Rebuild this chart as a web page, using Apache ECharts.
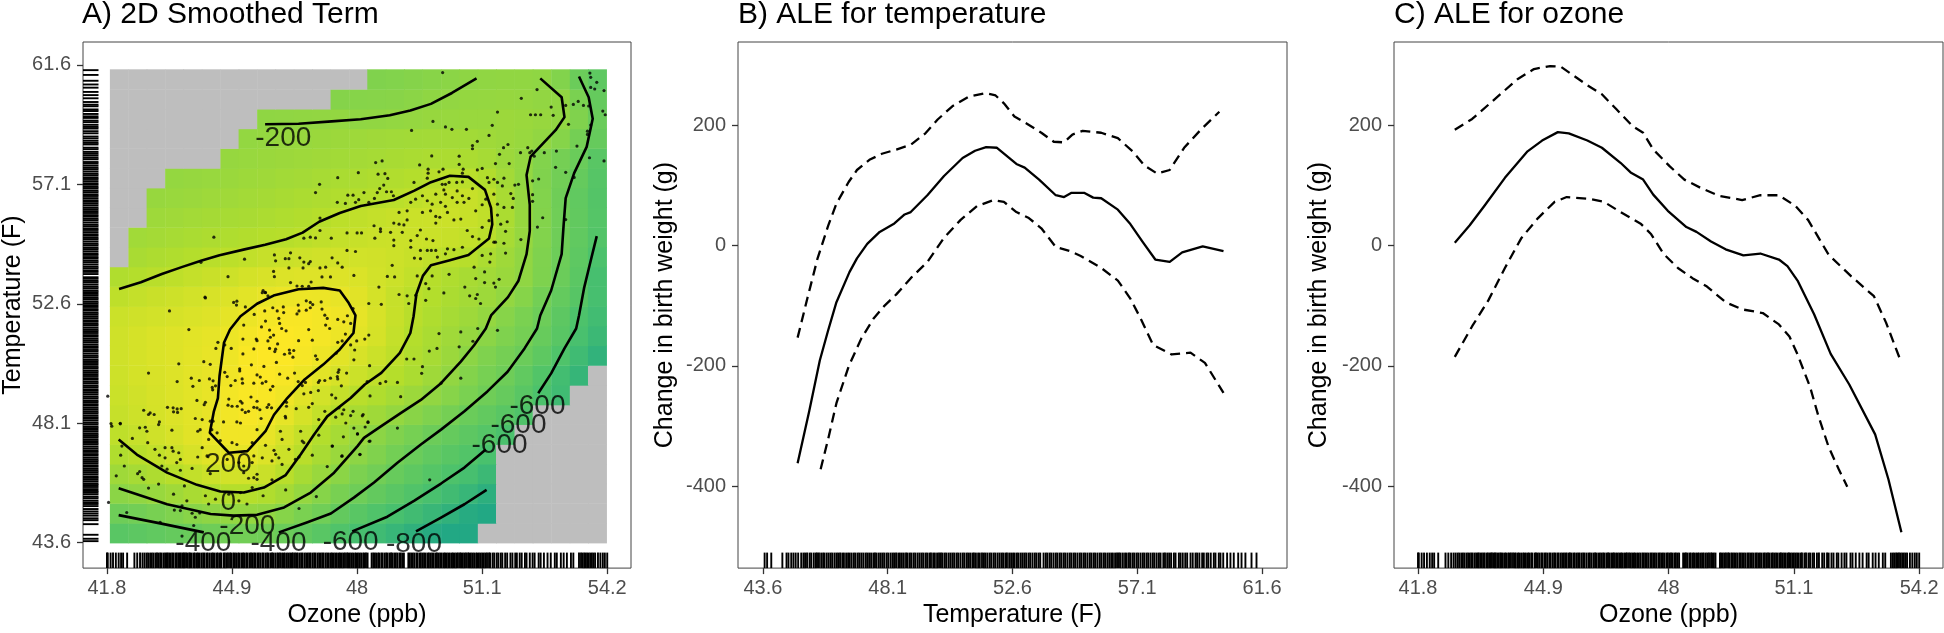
<!DOCTYPE html>
<html><head><meta charset="utf-8"><style>html,body{margin:0;padding:0;background:#fff}#c{width:1944px;height:633px}</style>
<script src="https://cdn.jsdelivr.net/npm/echarts@6/dist/echarts.min.js"></script></head><body><div id="c"></div>
<script>
const ozoneTicks=[41.8,44.9,48,51.1,54.2];
const tempTicks=[43.6,48.1,52.6,57.1,61.6];
const aleTicks=[-400,-200,0,200];
const titles=['A) 2D Smoothed Term','B) ALE for temperature','C) ALE for ozone'];
const heatX=[42.10,42.56,43.01,43.47,43.92,44.38,44.84,45.29,45.75,46.20,46.66,47.11,47.57,48.03,48.48,48.94,49.39,49.85,50.31,50.76,51.22,51.67,52.13,52.58,53.04,53.50,53.95];
const heatY=[43.97,44.71,45.46,46.20,46.94,47.68,48.43,49.17,49.91,50.66,51.40,52.14,52.88,53.63,54.37,55.11,55.86,56.60,57.34,58.08,58.83,59.57,60.31,61.06];
const _=null;
const heatValues=[
[-510,-490,-465,-440,-415,-385,-365,-360,-370,-410,-460,-510,-570,-630,-680,-740,-800,-860,-900,-940],
[-385,-360,-325,-285,-240,-210,-185,-180,-195,-250,-310,-370,-450,-510,-570,-620,-670,-730,-790,-860,-930],
[-225,-195,-160,-120,-75,-40,-15,-15,-40,-95,-175,-250,-320,-385,-450,-505,-560,-615,-670,-740,-820],
[-125,-90,-50,-5,40,80,105,100,65,0,-85,-155,-225,-300,-360,-425,-480,-535,-585,-630,-710],
[-40,0,40,80,125,165,190,185,145,80,0,-75,-150,-215,-280,-355,-410,-465,-510,-555,-610],
[20,55,90,125,165,200,230,230,190,125,50,-25,-90,-160,-220,-280,-335,-395,-440,-490,-540,-600],
[55,85,115,145,170,195,235,255,235,185,115,45,-20,-80,-125,-180,-235,-285,-340,-410,-455,-510,-570],
[70,95,120,145,170,195,240,265,260,225,165,105,45,0,-40,-90,-140,-190,-245,-310,-375,-435,-515,-590,-680],
[85,110,130,150,175,195,230,270,275,255,215,170,120,75,30,-15,-65,-125,-190,-265,-330,-385,-465,-555,-655,-750],
[90,115,135,155,175,195,220,265,280,275,250,215,170,125,75,25,-35,-85,-145,-220,-285,-340,-400,-480,-575,-680,-780],
[90,115,135,155,170,185,210,245,270,275,265,245,215,170,115,45,-20,-70,-120,-170,-225,-285,-340,-425,-515,-615,-710],
[75,90,105,120,135,155,180,210,245,260,260,245,225,185,125,60,0,-45,-90,-130,-180,-245,-310,-390,-490,-585,-665],
[20,45,65,85,105,125,145,170,195,210,215,210,195,165,110,55,10,-25,-65,-100,-135,-185,-250,-350,-445,-525,-625],
[-40,-20,0,20,45,65,85,110,130,145,155,155,150,135,105,75,40,-10,-45,-80,-110,-150,-200,-290,-400,-500,-625],
[_,-75,-55,-40,-20,0,15,35,55,70,85,95,100,100,95,80,60,30,10,-5,-60,-125,-195,-285,-390,-485,-590],
[_,-115,-100,-85,-70,-55,-45,-30,-15,-5,10,30,45,60,70,75,75,70,60,40,5,-85,-170,-270,-380,-465,-550],
[_,_,-130,-120,-105,-95,-85,-75,-60,-45,-30,-10,15,30,45,60,70,75,75,60,30,-65,-165,-265,-370,-460,-540],
[_,_,-165,-155,-145,-130,-120,-105,-95,-80,-65,-50,-35,-20,-10,5,25,45,60,60,25,-75,-170,-270,-375,-465,-545],
[_,_,_,-180,-170,-160,-150,-135,-125,-110,-100,-85,-70,-60,-45,-35,-20,0,10,5,-30,-105,-185,-280,-360,-440,-530],
[_,_,_,_,_,_,-170,-160,-150,-140,-130,-120,-110,-100,-90,-80,-70,-60,-60,-65,-90,-140,-180,-270,-340,-410,-510],
[_,_,_,_,_,_,_,-185,-175,-165,-160,-150,-140,-130,-120,-115,-110,-105,-105,-110,-125,-140,-160,-190,-250,-345,-430],
[_,_,_,_,_,_,_,_,-205,-200,-195,-190,-185,-200,-195,-185,-175,-165,-160,-155,-155,-140,-150,-165,-190,-280,-410],
[_,_,_,_,_,_,_,_,_,_,_,_,-255,-250,-245,-240,-225,-205,-190,-180,-175,-170,-175,-190,-195,-310,-440],
[_,_,_,_,_,_,_,_,_,_,_,_,_,_,-280,-270,-255,-240,-225,-210,-200,-195,-195,-205,-270,-400,-480]
];
const contour200=[[46.27,49.05],[45.94,48.42],[45.73,47.80],[45.28,47.05],[44.82,46.99],[44.35,47.74],[44.45,48.55],[44.55,49.05],[44.59,49.88],[44.70,51.13],[44.85,51.63],[45.11,52.13],[45.52,52.60],[45.93,52.91],[46.55,53.15],[47.16,53.20],[47.57,53.10],[47.78,52.66],[47.96,52.16],[47.91,51.50],[47.57,50.88],[47.16,50.31],[46.70,49.75],[46.27,49.05]];
const contour0=[[42.09,47.49],[42.54,46.92],[43.29,46.24],[44.03,45.78],[44.61,45.53],[45.19,45.49],[45.69,45.68],[46.23,46.15],[46.60,46.92],[46.93,47.67],[47.26,48.36],[47.84,49.05],[48.19,49.56],[48.60,50.00],[49.06,50.75],[49.32,51.50],[49.40,52.13],[49.47,52.97],[49.63,53.65],[49.83,54.05],[50.30,54.24],[50.76,54.44],[51.27,55.06],[51.35,55.59],[51.32,56.21],[51.17,56.89],[50.76,57.38],[50.30,57.42],[49.83,57.18],[49.42,56.86],[48.91,56.51],[48.09,56.28],[47.57,56.02],[47.06,55.69],[46.65,55.28],[46.24,55.03],[45.72,54.82],[45.21,54.65],[44.59,54.43],[44.13,54.22],[43.67,53.99],[43.16,53.72],[42.64,53.41],[42.10,53.16]];
const contourM200a=[[45.72,59.36],[46.55,59.38],[47.37,59.47],[48.09,59.55],[48.81,59.70],[49.32,59.88],[49.83,60.13],[50.35,60.54],[50.96,61.09]];
const contourM200b=[[42.09,45.65],[43.29,45.05],[44.37,44.68],[44.94,44.62],[45.52,44.65],[46.19,44.93],[46.85,45.49],[47.43,46.24],[48.01,47.24],[48.17,47.55],[48.59,47.98],[49.08,48.48],[49.58,48.98],[50.08,49.61],[50.57,50.42],[50.90,51.04],[51.19,51.67],[51.32,52.16],[51.74,52.85],[52.00,53.47],[52.20,54.47],[52.28,55.34],[52.28,56.33],[52.20,57.45],[52.30,58.14],[52.92,59.14],[53.14,59.63],[53.07,60.38],[52.54,61.09]];
const contourM400a=[[42.09,44.64],[43.12,44.33],[44.20,43.99]];
const contourM400b=[[46.06,43.99],[46.77,44.37],[47.35,44.70],[47.92,45.30],[48.42,45.87],[49.00,46.61],[49.58,47.30],[50.08,47.86],[50.66,48.55],[51.23,49.30],[51.73,50.04],[52.15,50.92],[52.46,51.67],[52.54,52.16],[52.81,53.10],[53.07,54.47],[53.12,55.59],[53.17,56.58],[53.38,57.52],[53.69,58.51],[53.84,59.57],[53.74,60.38],[53.50,61.16]];
const contourM600a=[[52.49,49.23],[52.81,49.98],[53.14,50.92],[53.43,51.67],[53.50,52.16],[53.63,53.22],[53.79,54.22],[53.94,55.15]];
const contourM600b=[[47.88,44.03],[48.75,44.58],[49.41,45.18],[50.08,45.83],[50.66,46.43],[51.19,47.11]];
const contourM800=[[49.46,44.03],[50.08,44.55],[50.66,45.05],[51.21,45.59]];
const labelText=['-200','200','0','-200','-400','-400','-600','-800','-600','-600','-600'];
const labelX=[46.17,44.81,44.81,45.28,44.19,46.05,47.84,49.41,52.47,52.00,51.53];
const labelY=[58.85,46.55,45.12,44.22,43.59,43.59,43.60,43.56,48.74,48.01,47.26];
const dotsUpper=[[50.12,61.31],[53.77,61.29],[53.79,61.13],[53.94,60.94],[53.79,60.75],[53.89,60.69],[54.12,60.63],[52.46,60.67],[52.07,60.34],[53.48,60.22],[53.36,60.11],[53.17,60.07],[52.81,60.01],[53.61,60.07],[53.74,60.05],[54.09,59.86],[54.15,59.72],[52.30,59.72],[52.42,59.72],[52.55,59.72],[51.48,59.82],[52.86,59.70],[53.24,59.36],[53.79,59.33],[49.88,59.47],[50.19,59.26],[50.35,59.17],[50.71,59.17],[51.35,59.32],[49.35,59.13],[51.27,58.94],[50.98,58.72],[50.86,58.56],[50.86,58.44],[51.63,58.48],[51.74,58.6],[51.53,58.23],[52.33,58.35],[52.39,58.16],[52.28,58.29],[52.23,58.48],[52.64,58.29],[52.94,58.35],[53.45,58.54],[53.71,59.1],[53.71,58.98],[53.76,58.1],[54.12,57.98],[53.38,57.36],[53.17,57.55],[52.92,57.74],[52.50,57.3],[52.35,57.23],[50.53,58.16],[49.85,58.17],[52.05,58.29],[52.35,56.46],[52.35,56.71],[52.6,55.84],[52.47,55.49],[53.17,55.77],[44.45,55.11],[45.21,54.28],[44.13,54.16],[44.8,53.62],[45.93,53.82],[45.95,53.62],[45.95,54.44],[45.98,54.22],[45.67,53.1],[45.72,53.03],[44.23,52.85],[41.82,49.12],[41.9,48.09],[42.13,48.1]];
const dotsMiddle=[[50.11,57.1],[50.19,57.1],[50.28,57.17],[50.47,57.17],[50.61,57.19],[50.86,56.94],[50.15,56.89],[50.48,56.85],[49.95,56.73],[50.19,56.73],[50.61,56.67],[50.36,56.6],[50.77,56.57],[49.62,56.67],[49.45,56.54],[49.33,56.42],[49.74,56.48],[49.86,56.35],[50.07,56.42],[50.19,56.27],[50.48,56.42],[50.65,56.42],[51.1,56.33],[51.19,56.54],[50.94,56.1],[50.24,56.04],[49.62,56.04],[49.24,56.1],[49.04,56.04],[49.82,56.1],[49.95,55.89],[50.05,55.86],[50.4,55.76],[50.57,55.79],[51.1,55.48],[51.27,55.73],[49.95,55.64],[49.24,55.76],[49.57,55.38],[49.49,55.17],[48.91,55.64],[49.04,55.6],[49.16,55.57],[48.58,55.42],[48.42,55.54],[48.58,55.32],[48.83,55.29],[49.12,55.29],[48.91,55.0],[49.33,54.98],[49.72,55.04],[49.88,54.98],[50.73,55.36],[50.86,55.13],[51.02,55.04],[51.39,54.92],[50.61,54.73],[50.24,54.67],[50.4,54.64],[49.95,54.61],[49.84,54.61],[49.74,54.61],[49.57,54.61],[49.33,54.73],[48.91,54.79],[47.75,54.61],[47.96,54.57],[49.42,54.32],[49.57,54.3],[49.99,54.36],[50.19,54.48],[51.1,54.42],[51.31,54.48],[51.29,54.17],[50.9,53.98],[47.38,54.33],[47.52,54.14],[47.63,53.98],[48.87,54.05],[48.75,53.63],[48.93,53.61],[49.49,53.65],[49.86,53.65],[50.28,53.71],[50.94,53.55],[51.16,53.8],[51.52,53.52],[51.39,53.38],[51.16,53.4],[51.43,53.23],[50.67,53.23],[49.7,53.36],[49.78,53.17],[50.15,53.01],[50.79,52.9],[50.94,52.8],[50.98,52.95],[51.06,52.61],[49.45,52.92],[49.7,52.73],[49.04,52.95],[49.24,52.9],[49.28,52.61],[48.54,53.23],[48.29,52.61],[48.6,52.58],[47.92,53.67],[47.34,53.61],[47.13,53.61],[46.86,53.42],[46.64,53.26],[46.8,53.26],[46.35,53.4],[46.51,53.27],[46.31,53.95],[46.66,53.95],[47.08,53.95],[47.22,53.98],[46.22,54.3],[46.31,54.3],[46.58,54.33],[46.68,54.17],[46.8,54.11],[46.84,54.19],[46.35,54.52],[47.08,55.36],[46.68,55.07],[46.84,55.11],[46.97,55.08],[47.36,55.07],[47.75,55.27],[48.0,55.27],[48.11,55.27],[48.44,55.07],[47.08,55.83],[47.51,56.42],[47.71,56.38],[47.96,56.42],[48.04,56.52],[48.29,56.42],[48.43,56.57],[48.17,56.79],[47.77,56.69],[47.9,56.69],[46.97,56.79],[47.07,57.1],[47.52,57.35],[48.03,57.54],[48.52,57.48],[48.69,57.5],[48.76,57.32],[48.66,57.07],[48.56,56.94],[48.5,56.79],[48.73,56.82],[48.85,56.82],[48.9,56.67],[48.46,57.92],[48.62,57.98],[49.41,57.17],[49.55,57.83],[49.76,57.67],[49.76,57.52],[49.74,57.33],[50.03,57.57],[50.13,57.67],[50.53,57.85],[50.63,57.67],[50.61,57.52],[50.98,57.64],[51.1,57.7],[51.43,57.88],[51.77,57.88],[51.23,57.35],[51.39,57.29],[51.27,57.17],[51.64,57.33],[51.48,57.17],[51.6,57.04],[51.91,57.07],[52.0,57.1],[51.81,56.75],[51.87,56.57],[51.48,56.35],[51.64,56.23],[51.85,56.23],[51.39,56.73],[51.56,55.6],[51.72,55.69],[51.48,55.94],[51.68,55.33],[52.06,55.02],[51.43,54.92],[51.64,54.88],[51.68,54.51]];
const dotsCentre=[[45.65,53.02],[45.73,53.02],[45.79,52.9],[44.24,52.82],[44.94,52.65],[45.02,52.7],[45.01,52.55],[45.23,52.48],[43.35,52.33],[45.45,52.2],[45.71,52.33],[45.91,52.45],[46.02,52.33],[46.17,52.48],[46.18,52.27],[46.54,52.55],[46.56,52.33],[46.51,52.22],[46.74,52.71],[46.84,52.65],[46.9,52.57],[46.84,52.45],[46.74,52.36],[47.11,52.67],[47.13,52.4],[47.2,52.17],[47.26,52.05],[47.52,52.01],[47.67,51.92],[47.84,51.86],[47.76,52.15],[47.9,52.42],[46.06,52.05],[46.08,51.86],[45.73,51.95],[45.63,51.73],[45.19,51.8],[46.13,51.67],[46.24,51.58],[45.83,51.61],[45.93,51.42],[45.85,51.34],[45.79,51.2],[45.5,51.27],[45.52,51.21],[45.17,51.27],[46.8,51.63],[47.22,51.8],[47.32,51.67],[46.55,51.21],[46.89,51.23],[47.71,51.46],[43.83,51.63],[44.55,51.15],[44.5,50.92],[44.72,51.05],[44.88,50.92],[45.44,50.9],[46.03,51.09],[45.83,50.92],[45.98,50.89],[45.96,50.8],[46.32,50.86],[46.43,50.84],[46.33,50.74],[46.2,50.7],[46.41,50.59],[45.17,50.71],[47.52,51.15],[47.63,51.2],[47.84,51.05],[47.94,50.86],[47.99,51.2],[48.19,51.27],[48.29,51.42],[46.97,50.64],[47.01,50.51],[47.48,50.74],[47.92,50.49],[48.31,50.27],[44.2,50.42],[43.58,50.34],[44.36,50.32],[45.09,50.15],[45.09,50.07],[45.38,50.3],[45.69,50.24],[46.0,50.39],[42.83,49.99],[44.72,50.02],[44.78,49.86],[45.52,49.92],[45.6,49.84],[46.08,49.95],[46.28,49.8],[46.45,49.99],[47.55,50.11],[47.53,50.02],[47.74,49.99],[47.51,49.86],[47.52,49.77],[47.34,49.8],[48.25,49.67],[43.89,49.8],[44.09,49.71],[44.34,49.77],[44.43,49.7],[43.54,49.67],[44.98,49.71],[45.15,49.77],[45.16,49.61],[45.44,49.61],[45.65,49.61],[45.74,49.67],[46.54,49.67],[46.72,49.64],[47.07,49.71],[47.04,49.64],[47.2,49.71],[47.61,49.51],[43.93,49.49],[44.41,49.45],[44.42,49.36],[44.49,49.51],[44.87,49.52],[45.91,49.49],[45.85,49.36],[46.64,49.52],[46.68,49.21],[46.85,49.26],[47.04,49.33],[47.37,49.17],[47.47,49.05],[44.03,48.96],[44.24,48.89],[44.21,48.8],[44.82,49.01],[45.37,49.09],[45.52,48.93],[45.11,48.93],[45.15,48.86],[44.8,48.78],[44.9,48.74],[45.03,48.74],[45.15,48.61],[45.23,48.51],[45.31,48.55],[45.44,48.7],[45.52,48.68],[45.59,48.61],[45.77,48.7],[45.81,48.8],[45.88,48.68],[46.25,48.89],[46.25,48.74],[46.49,48.65],[46.8,48.7],[46.89,48.84],[46.22,48.36],[47.2,48.55],[47.55,48.68],[47.67,48.61],[47.9,48.55],[47.63,48.45],[48.15,48.43],[43.3,48.7],[43.44,48.68],[43.54,48.64],[43.64,48.65],[43.45,48.53],[43.55,48.51],[42.71,48.59],[42.87,48.49],[42.97,48.43],[42.83,48.43]];
const dotsRight=[[48.32,49.13],[49.08,49.1],[49.0,49.64],[48.57,49.6],[48.71,49.67],[49.23,50.52],[49.41,50.52],[49.62,50.23],[49.6,49.98],[49.79,50.82],[49.98,50.92],[50.03,51.48],[50.57,51.54],[50.53,50.98],[50.87,51.19],[50.99,51.67],[51.48,51.6],[50.57,49.8],[50.08,49.61],[47.92,47.92],[48.01,47.7],[48.2,47.96],[48.27,48.13],[47.66,47.59],[49.0,47.92],[48.3,47.42],[48.07,46.92],[47.62,46.86],[47.39,47.24],[49.8,45.97]];
const dotsLower=[[41.92,47.99],[42.13,48.08],[42.17,47.24],[42.14,46.9],[42.23,46.49],[42.03,46.12],[42.43,47.53],[42.61,47.93],[42.75,47.95],[42.79,47.8],[42.81,47.37],[43.08,48.05],[43.1,48.15],[42.99,47.12],[43.1,46.9],[43.24,47.18],[43.41,47.84],[43.41,47.18],[43.44,47.05],[43.24,46.8],[43.16,46.49],[43.29,46.37],[43.58,46.99],[43.62,46.74],[43.53,46.62],[43.62,46.33],[43.91,46.4],[42.83,45.66],[43.08,45.81],[42.56,46.2],[42.61,46.28],[42.67,46.05],[42.71,45.99],[43.45,45.43],[43.72,45.74],[43.78,45.18],[43.66,44.99],[43.47,44.83],[43.62,44.81],[43.91,44.71],[44.1,44.72],[43.99,44.56],[43.95,44.25],[43.66,43.85],[42.29,44.74],[43.12,44.37],[41.84,45.12],[43.99,48.28],[44.16,48.24],[44.11,47.86],[44.05,47.8],[44.36,48.18],[44.43,48.18],[44.4,47.86],[44.53,47.74],[44.32,47.49],[44.16,47.18],[44.05,46.83],[44.28,46.87],[44.36,46.2],[44.69,48.15],[44.61,47.45],[44.9,47.37],[45.02,47.3],[45.02,48.15],[45.11,48.11],[44.78,46.74],[45.07,46.62],[45.19,46.49],[45.4,46.62],[45.44,46.87],[45.52,47.86],[45.62,48.28],[45.4,47.37],[45.73,47.27],[45.94,47.08],[45.89,46.68],[45.65,46.8],[46.06,46.8],[45.98,46.93],[46.14,46.55],[46.31,47.12],[46.1,47.8],[46.14,47.49],[46.23,48.3],[46.6,47.8],[46.64,47.43],[46.68,47.37],[46.56,46.83],[46.47,46.74],[46.89,46.9],[47.05,47.65],[47.47,48.33],[47.72,48.11],[47.84,48.39],[48.13,48.38],[48.27,48.15],[48.01,47.7],[47.38,47.24],[47.63,46.87],[47.26,46.47],[48.07,46.93],[48.32,47.43],[47.05,48.24],[45.19,46.24],[45.44,46.05],[45.52,46.18],[45.31,46.03],[45.52,45.99],[45.89,45.97],[46.23,45.59],[45.67,45.37],[45.4,45.68],[45.07,45.18],[45.27,45.06],[45.11,45.49],[44.82,45.43],[44.49,45.24],[44.24,45.37],[44.32,45.06],[46.56,44.89],[46.99,45.34]];
const rugOzone=[41.8,41.82,41.89,41.95,42.02,42.09,42.15,42.2,42.3,42.48,42.55,42.62,42.68,42.73,42.78,42.82,42.87,42.91,42.95,43.0,43.04,43.08,43.12,43.15,43.2,43.24,43.28,43.3,43.34,43.38,43.42,43.45,43.5,43.53,43.57,43.6,43.63,43.67,43.7,43.72,43.76,43.8,43.84,43.86,43.9,43.95,43.98,44.03,44.06,44.1,44.15,44.19,44.22,44.27,44.3,44.35,44.4,44.43,44.47,44.52,44.55,44.6,44.63,44.69,44.72,44.76,44.8,44.85,44.88,44.93,44.96,45.0,45.05,45.08,45.13,45.17,45.2,45.25,45.28,45.33,45.37,45.41,45.45,45.48,45.53,45.56,45.6,45.65,45.68,45.73,45.77,45.8,45.85,45.89,45.92,45.97,46.02,46.05,46.09,46.14,46.18,46.21,46.26,46.3,46.34,46.38,46.41,46.46,46.5,46.53,46.58,46.62,46.65,46.7,46.74,46.78,46.82,46.85,46.9,46.94,46.97,47.02,47.06,47.1,47.14,47.17,47.22,47.26,47.3,47.35,47.38,47.42,47.46,47.5,47.55,47.58,47.62,47.66,47.7,47.75,47.78,47.82,47.86,47.9,47.95,47.98,48.02,48.06,48.1,48.15,48.18,48.22,48.26,48.36,48.4,48.43,48.47,48.52,48.55,48.6,48.63,48.68,48.72,48.75,48.8,48.84,48.87,48.92,48.96,49.0,49.05,49.08,49.12,49.16,49.27,49.3,49.34,49.38,49.42,49.47,49.5,49.55,49.58,49.62,49.66,49.7,49.75,49.78,49.82,49.86,49.9,49.95,49.98,50.02,50.06,50.1,50.15,50.18,50.22,50.26,50.3,50.35,50.38,50.42,50.46,50.5,50.55,50.58,50.62,50.66,50.7,50.75,50.78,50.82,50.86,50.9,50.95,50.98,51.02,51.06,51.1,51.14,51.18,51.22,51.27,51.3,51.36,51.4,51.46,51.5,51.56,51.6,51.67,51.72,51.8,51.85,51.92,51.96,52.03,52.08,52.16,52.2,52.28,52.35,52.4,52.5,52.55,52.63,52.72,52.8,52.9,52.95,53.05,53.12,53.2,53.3,53.36,53.5,53.55,53.59,53.63,53.66,53.7,53.74,53.78,53.82,53.86,53.9,53.97,54.03,54.09,54.14,54.2];
const rugTemp=[43.66,43.75,43.9,44.3,44.45,44.52,44.62,44.7,44.78,44.87,44.98,45.06,45.12,45.19,45.28,45.34,45.43,45.5,45.55,45.62,45.7,45.77,45.82,45.9,45.97,46.04,46.1,46.18,46.25,46.31,46.38,46.46,46.52,46.6,46.67,46.73,46.8,46.88,46.94,47.02,47.08,47.15,47.22,47.3,47.36,47.43,47.5,47.58,47.64,47.7,47.78,47.85,47.92,47.98,48.06,48.12,48.2,48.27,48.33,48.4,48.48,48.54,48.61,48.68,48.76,48.82,48.9,48.96,49.04,49.1,49.18,49.25,49.32,49.38,49.46,49.52,49.6,49.66,49.74,49.8,49.88,49.95,50.02,50.08,50.16,50.22,50.3,50.37,50.44,50.5,50.58,50.64,50.72,50.8,50.86,50.94,51.0,51.07,51.15,51.21,51.28,51.36,51.42,51.5,51.57,51.63,51.7,51.78,51.84,51.92,51.98,52.06,52.13,52.2,52.26,52.34,52.4,52.48,52.55,52.62,52.68,52.76,52.82,52.9,52.97,53.04,53.1,53.18,53.24,53.32,53.4,53.46,53.54,53.6,53.72,53.8,53.86,53.94,54.0,54.08,54.16,54.22,54.3,54.36,54.44,54.5,54.58,54.66,54.72,54.8,54.86,54.94,55.02,55.08,55.16,55.22,55.3,55.38,55.44,55.52,55.58,55.66,55.74,55.8,55.88,55.94,56.02,56.09,56.16,56.22,56.3,56.37,56.44,56.5,56.58,56.66,56.72,56.8,56.86,56.94,57.0,57.08,57.14,57.22,57.3,57.36,57.44,57.5,57.58,57.66,57.72,57.8,57.88,57.94,58.04,58.1,58.18,58.25,58.32,58.42,58.48,58.6,58.66,58.74,58.83,58.9,59.02,59.1,59.2,59.26,59.34,59.44,59.5,59.6,59.66,59.75,59.86,59.92,60.04,60.1,60.2,60.34,60.46,60.58,60.74,60.86,61.0,61.22,61.4];
const tempSolid=[[44.85,-362],[45.27,-275],[45.65,-191],[45.95,-141],[46.25,-94],[46.72,-44],[46.99,-21],[47.36,3],[47.81,23],[48.34,37],[48.71,52],[48.93,56],[49.53,84],[50.13,116],[50.80,146],[51.25,158],[51.65,164],[52.04,163],[52.74,136],[53.04,130],[53.56,110],[54.16,84],[54.46,81],[54.73,88],[55.18,88],[55.51,80],[55.80,79],[56.40,60],[56.85,36],[57.30,6],[57.75,-23],[58.27,-27],[58.72,-11],[59.46,-1],[60.21,-9]];
const tempUpper=[[44.85,-153],[45.20,-88],[45.57,-21],[45.95,33],[46.25,70],[46.69,106],[46.99,126],[47.44,143],[47.89,153],[48.41,160],[48.93,168],[49.46,187],[49.90,210],[50.43,232],[51.02,248],[51.62,254],[51.99,250],[52.29,237],[52.67,215],[53.12,203],[53.64,188],[54.09,173],[54.46,172],[54.76,185],[55.13,191],[55.80,188],[56.40,179],[56.93,157],[57.37,133],[57.82,120],[58.27,126],[58.79,163],[59.39,193],[60.06,223]];
const tempLower=[[45.68,-372],[45.95,-322],[46.25,-262],[46.69,-201],[47.14,-155],[47.59,-121],[47.96,-101],[48.41,-81],[48.93,-54],[49.53,-27],[50.13,13],[50.73,43],[51.32,66],[51.92,76],[52.29,73],[52.74,56],[53.19,46],[53.64,29],[54.16,-2],[54.68,-9],[55.06,-17],[55.80,-37],[56.40,-58],[56.85,-88],[57.22,-121],[57.67,-165],[58.34,-181],[59.02,-178],[59.54,-195],[60.21,-245]];
const ozoneSolid=[[42.71,5],[43.08,34],[43.44,66],[43.95,113],[44.51,157],[44.87,175],[45.26,189],[45.53,187],[45.99,175],[46.35,163],[46.81,138],[47.06,122],[47.37,110],[47.62,85],[47.98,58],[48.44,31],[48.69,23],[49.05,7],[49.41,-6],[49.85,-16],[50.27,-13],[50.73,-23],[50.94,-34],[51.19,-58],[51.60,-114],[52.01,-180],[52.47,-231],[53.11,-314],[53.44,-389],[53.76,-477]];
const ozoneUpper=[[42.71,193],[43.14,211],[43.65,241],[44.26,277],[44.67,294],[45.07,299],[45.33,298],[45.99,267],[46.35,252],[46.71,227],[47.11,199],[47.37,188],[47.62,160],[48.03,132],[48.39,110],[48.80,96],[49.25,83],[49.82,76],[50.27,84],[50.73,84],[51.14,66],[51.45,43],[51.96,-15],[52.52,-51],[53.08,-84],[53.38,-128],[53.76,-195]];
const ozoneLower=[[42.71,-185],[43.14,-134],[43.54,-91],[43.95,-37],[44.36,13],[44.77,46],[45.18,73],[45.48,81],[46.04,78],[46.40,73],[46.81,56],[47.32,36],[47.57,19],[47.88,-14],[48.23,-37],[48.59,-54],[48.95,-68],[49.41,-94],[49.82,-106],[50.33,-112],[50.73,-131],[50.99,-151],[51.19,-181],[51.50,-235],[51.70,-282],[51.96,-335],[52.21,-372],[52.42,-401]];

const FONT='"Liberation Sans",Arial,sans-serif';
const palette=['#22a884','#4ac16d','#7ad151','#b5de2b','#fde725'];
const heatMin=-900,heatMax=280,cellW=0.4553,cellH=0.7425;
const heatCells=[];
heatY.forEach((y,r)=>heatX.forEach((x,c)=>{const v=heatValues[r][c];heatCells.push([x,y,v==null?NaN:v]);}));
function heatRender(p,api){
  const x=api.value(0),y=api.value(1),v=api.value(2);
  const a=api.coord([x-cellW/2,y+cellH/2]),b=api.coord([x+cellW/2,y-cellH/2]);
  let fill='#bebebe';
  if(!isNaN(v)){const t=Math.max(0,Math.min(1,(v-heatMin)/(heatMax-heatMin)));fill=echarts.color.lerp(t,palette);}
  return {type:'rect',shape:{x:a[0],y:a[1],width:b[0]-a[0]+0.6,height:b[1]-a[1]+0.6},style:{fill:fill}};
}
const RUG=15.5,RUGW=1.9;
function rugX(p,api){const c=api.coord([api.value(0),0]);const b=p.coordSys.y+p.coordSys.height;
  return {type:'line',shape:{x1:c[0],y1:b,x2:c[0],y2:b-RUG},style:{stroke:'#000',lineWidth:RUGW}};}
function rugY(p,api){const c=api.coord([0,api.value(0)]);const l=p.coordSys.x;
  return {type:'line',shape:{x1:l,y1:c[1],x2:l+RUG,y2:c[1]},style:{stroke:'#000',lineWidth:RUGW}};}
const gridTop=42,gridBottom=62,gridW=549;
const lefts=[82,738,1394];
function axisBase(i,min,max,ticks,name,margin){return {gridIndex:i,type:'value',min:min,max:max,name:name,nameLocation:'middle',
  nameTextStyle:{fontFamily:FONT,fontSize:25,color:'#000'},splitLine:{show:false},axisLine:{show:false,onZero:false},
  axisTick:{show:true,length:6,customValues:ticks,lineStyle:{color:'#333',width:1.3}},
  axisLabel:{show:true,margin:margin,fontFamily:FONT,fontSize:20,color:'#4d4d4d',customValues:ticks,showMinLabel:true,showMaxLabel:true,formatter:v=>String(v)}};}
function xAxis(i,min,max,ticks,name){return Object.assign(axisBase(i,min,max,ticks,name,10),{nameGap:34});}
function yAxis(i,min,max,ticks,name,gap){return Object.assign(axisBase(i,min,max,ticks,name,12),{nameGap:gap,nameRotate:90});}
function line(i,data,dash,w){return {type:'line',xAxisIndex:i,yAxisIndex:i,data:data,showSymbol:false,silent:true,animation:false,clip:false,
  lineStyle:{color:'#000',width:w||2.3,type:dash?[10,6]:'solid',cap:'butt',join:'round'}};}
const contours=[contour200,contour0,contourM200a,contourM200b,contourM400a,contourM400b,contourM600a,contourM600b,contourM800];
const dots=[].concat(dotsUpper,dotsMiddle,dotsCentre,dotsRight,dotsLower);
const series=[
 {type:'custom',xAxisIndex:0,yAxisIndex:0,data:heatCells,renderItem:heatRender,silent:true,animation:false,clip:false,encode:{x:0,y:1}},
 {type:'scatter',xAxisIndex:0,yAxisIndex:0,data:dots,symbolSize:3.2,silent:true,animation:false,itemStyle:{color:'#000'},large:false},
 ...contours.map(c=>line(0,c,false,2.6)),
 {type:'scatter',xAxisIndex:0,yAxisIndex:0,symbolSize:0,silent:true,animation:false,clip:false,
  data:labelText.map((t,i)=>[labelX[i],labelY[i],t]),
  label:{show:true,position:'inside',formatter:p=>p.value[2],fontFamily:FONT,fontSize:28,color:'#000'}},
 {type:'custom',xAxisIndex:0,yAxisIndex:0,data:rugOzone.map(v=>[v]),renderItem:rugX,silent:true,animation:false,clip:false,encode:{x:0}},
 {type:'custom',xAxisIndex:0,yAxisIndex:0,data:rugTemp.map(v=>[v]),renderItem:rugY,silent:true,animation:false,clip:false,encode:{y:0}},
 line(1,tempSolid,false),line(1,tempUpper,true),line(1,tempLower,true),
 {type:'custom',xAxisIndex:1,yAxisIndex:1,data:rugTemp.map(v=>[v]),renderItem:rugX,silent:true,animation:false,clip:false,encode:{x:0}},
 line(2,ozoneSolid,false),line(2,ozoneUpper,true),line(2,ozoneLower,true),
 {type:'custom',xAxisIndex:2,yAxisIndex:2,data:rugOzone.map(v=>[v]),renderItem:rugX,silent:true,animation:false,clip:false,encode:{x:0}}
];
const chart=echarts.init(document.getElementById('c'),null,{renderer:'canvas'});
chart.setOption({
 animation:false,backgroundColor:'#fff',
 title:titles.map((t,i)=>({text:t,left:lefts[i],top:0,padding:0,textStyle:{fontFamily:FONT,fontSize:30,fontWeight:'normal',color:'#000'}})),
 grid:lefts.map(l=>({left:l,top:gridTop,width:gridW,bottom:gridBottom,show:true,borderColor:'#444',borderWidth:1,backgroundColor:'transparent',containLabel:false})),
 xAxis:[xAxis(0,41.206,54.789,ozoneTicks,'Ozone (ppb)'),xAxis(1,42.7,62.5,tempTicks,'Temperature (F)'),xAxis(2,41.206,54.789,ozoneTicks,'Ozone (ppb)')],
 yAxis:[yAxis(0,42.645,62.46,tempTicks,'Temperature (F)',57),yAxis(1,-536.5,339,aleTicks,'Change in birth weight (g)',60),yAxis(2,-536.5,339,aleTicks,'Change in birth weight (g)',62)],
 series:series
});
</script></body></html>
